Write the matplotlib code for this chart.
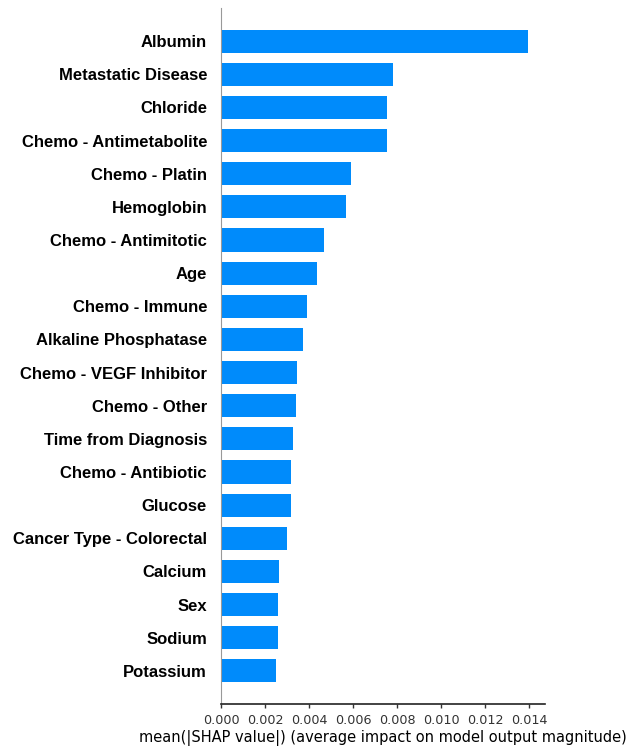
import numpy as np
import matplotlib.pyplot as plt

# mean |SHAP| per feature, most important first
features = [
    "Albumin", "Metastatic Disease", "Chloride", "Chemo - Antimetabolite",
    "Chemo - Platin", "Hemoglobin", "Chemo - Antimitotic", "Age",
    "Chemo - Immune", "Alkaline Phosphatase", "Chemo - VEGF Inhibitor",
    "Chemo - Other", "Time from Diagnosis", "Chemo - Antibiotic", "Glucose",
    "Cancer Type - Colorectal", "Calcium", "Sex", "Sodium", "Potassium",
]
mean_abs_shap = [
    0.01395, 0.00782, 0.00755, 0.00755,
    0.00590, 0.00570, 0.00470, 0.00438,
    0.00390, 0.00372, 0.00345,
    0.00339, 0.00329, 0.00320, 0.00320,
    0.00302, 0.00265, 0.00261, 0.00261, 0.00249,
]
xticks = [0.000, 0.002, 0.004, 0.006, 0.008, 0.010, 0.012, 0.014]

fig = plt.figure(figsize=(6.31, 7.52), dpi=100)
ax = fig.add_axes([221 / 631, 48 / 752, 324 / 631, 696 / 752])

n = len(features)
y = np.arange(n)[::-1]
ax.barh(y, mean_abs_shap, height=0.7, color="#008bfb", align="center")

ax.set_ylim(-1, n)
ax.set_xlim(0, 0.01473)
ax.set_yticks(y)
ax.set_yticklabels(features, fontsize=12, fontweight="bold",
                   family="Liberation Sans")
ax.tick_params(axis="y", length=0, pad=10)

ax.set_xticks(xticks)
ax.set_xticklabels([f"{t:.3f}" for t in xticks], fontsize=9.2, color="#333333")
ax.tick_params(axis="x", length=3, width=1, color="#333333", pad=4)
ax.set_xlabel("mean(|SHAP value|) (average impact on model output magnitude)",
              fontsize=10.5, labelpad=2)

ax.spines["top"].set_visible(False)
ax.spines["right"].set_visible(False)
ax.spines["left"].set_color("#999999")
ax.spines["bottom"].set_color("#222222")
ax.spines["bottom"].set_linewidth(1.2)

fig.savefig("out.png", dpi=100)
